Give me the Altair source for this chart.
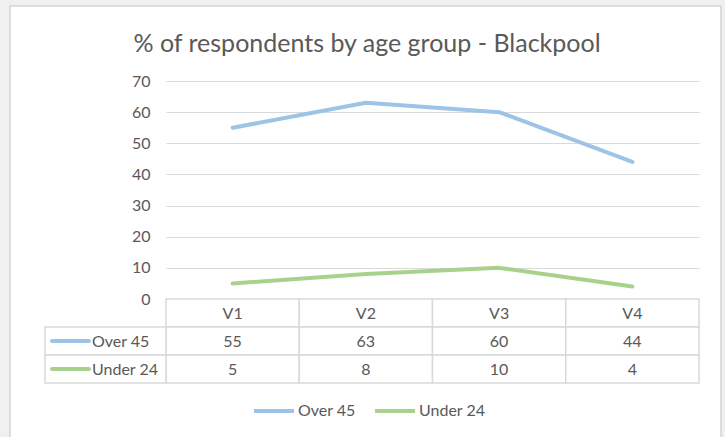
import altair as alt
import pandas as pd

# Survey waves and the share of respondents in each age group
waves = ["V1", "V2", "V3", "V4"]
over_45 = [55, 63, 60, 44]
under_24 = [5, 8, 10, 4]
series_names = ["Over 45", "Under 24"]
series_colors = ["#9dc3e6", "#a9d18e"]
y_ticks = [0, 10, 20, 30, 40, 50, 60, 70]
title_text = ["% of respondents by age group - Blackpool"]

FONT = "Lato"
GREY_TEXT = "#595959"
GRID = "#d9d9d9"
OUTSIDE = "#f0f0f0"

W, H = 533, 302  # plot area plus data table below it

lines_df = pd.DataFrame(
    [{"wave": w, "series": series_names[0], "value": v} for w, v in zip(waves, over_45)]
    + [{"wave": w, "series": series_names[1], "value": v} for w, v in zip(waves, under_24)]
)

rows = ["header"] + series_names
cells_df = pd.DataFrame(
    [{"wave": w, "row": "header", "label": w} for w in waves]
    + [{"wave": w, "row": series_names[0], "label": str(v)} for w, v in zip(waves, over_45)]
    + [{"wave": w, "row": series_names[1], "label": str(v)} for w, v in zip(waves, under_24)]
)
row_heads_df = pd.DataFrame({"row": series_names, "series": series_names})

x_enc = alt.X("wave:N", sort=waves, axis=None,
              scale=alt.Scale(domain=waves, paddingInner=0, paddingOuter=0))
x_mid = alt.X("wave:N", sort=waves, axis=None, bandPosition=0.5,
              scale=alt.Scale(domain=waves, paddingInner=0, paddingOuter=0))
row_scale = alt.Scale(domain=rows, range=[218, 302], paddingInner=0, paddingOuter=0)
color_scale = alt.Scale(domain=series_names, range=series_colors)

one = pd.DataFrame({"k": [0]})

# grey surround outside the chart frame, and the frame border itself
margin_left = alt.Chart(one).mark_rect(fill=OUTSIDE).encode(
    x=alt.value(-166), x2=alt.value(-156), y=alt.value(-81), y2=alt.value(356))
margin_top = alt.Chart(one).mark_rect(fill=OUTSIDE).encode(
    x=alt.value(-166), x2=alt.value(559), y=alt.value(-81), y2=alt.value(-75))
margin_right = alt.Chart(one).mark_rect(fill=OUTSIDE).encode(
    x=alt.value(555), x2=alt.value(559), y=alt.value(-81), y2=alt.value(356))
frame = alt.Chart(one).mark_rect(fill=None, stroke="#d4d4d4", strokeWidth=1.5).encode(
    x=alt.value(-156), x2=alt.value(555), y=alt.value(-75), y2=alt.value(380))

title = alt.Chart(pd.DataFrame({"t": title_text})).mark_text(
    font=FONT, fontSize=25, color=GREY_TEXT, align="center", baseline="alphabetic"
).encode(x=alt.value(201), y=alt.value(-29), text="t:N")

lines = alt.Chart(lines_df).mark_line(strokeWidth=4, strokeCap="round", strokeJoin="round").encode(
    x=x_mid,
    y=alt.Y("value:Q",
            scale=alt.Scale(domain=[0, 70], range=[218, 0], nice=False),
            axis=alt.Axis(values=y_ticks, title=None, domain=False, ticks=False,
                          grid=True, gridColor=GRID, gridWidth=1,
                          labelFont=FONT, labelFontSize=16, labelColor=GREY_TEXT,
                          labelPadding=16)),
    color=alt.Color("series:N", scale=color_scale, sort=series_names,
                    legend=alt.Legend(title=None, orient="none", direction="horizontal",
                                      legendX=86, legendY=308,
                                      symbolType="stroke", symbolSize=1600,
                                      symbolStrokeWidth=4, labelOffset=2,
                                      labelFont=FONT, labelFontSize=16,
                                      labelColor=GREY_TEXT, columnPadding=11)),
)

cells = alt.Chart(cells_df).mark_rect(fill="white", stroke=GRID, strokeWidth=1.5).encode(
    x=x_enc,
    y=alt.Y("row:N", sort=rows, scale=row_scale, axis=None),
)

head_cells = alt.Chart(row_heads_df).mark_rect(fill="white", stroke=GRID, strokeWidth=1.5).encode(
    x=alt.value(-121), x2=alt.value(0),
    y=alt.Y("row:N", sort=rows, scale=row_scale, axis=None),
)

cell_text = alt.Chart(cells_df).mark_text(
    font=FONT, fontSize=16, color=GREY_TEXT, baseline="middle", dy=1
).encode(
    x=x_mid,
    y=alt.Y("row:N", sort=rows, scale=row_scale, axis=None, bandPosition=0.5),
    text="label:N",
)

head_keys = alt.Chart(row_heads_df).mark_rule(strokeWidth=4, strokeCap="round").encode(
    x=alt.value(-114), x2=alt.value(-77),
    y=alt.Y("row:N", sort=rows, scale=row_scale, axis=None, bandPosition=0.5),
    color=alt.Color("series:N", scale=color_scale, sort=series_names, legend=None),
)

head_text = alt.Chart(row_heads_df).mark_text(
    font=FONT, fontSize=16, color=GREY_TEXT, align="left", baseline="middle", dy=1
).encode(
    x=alt.value(-74),
    y=alt.Y("row:N", sort=rows, scale=row_scale, axis=None, bandPosition=0.5),
    text="series:N",
)

chart = alt.layer(
    margin_left, margin_top, margin_right, frame, title,
    cells, head_cells, lines, cell_text, head_keys, head_text
).resolve_scale(y="independent").properties(
    width=W, height=H,
    padding={"left": 166, "top": 81, "right": 26, "bottom": 54},
    autosize=alt.AutoSizeParams(type="none"),
).configure(background="white").configure_view(stroke=None)

chart.save("out.html", embed_options={"renderer": "svg", "actions": False})
